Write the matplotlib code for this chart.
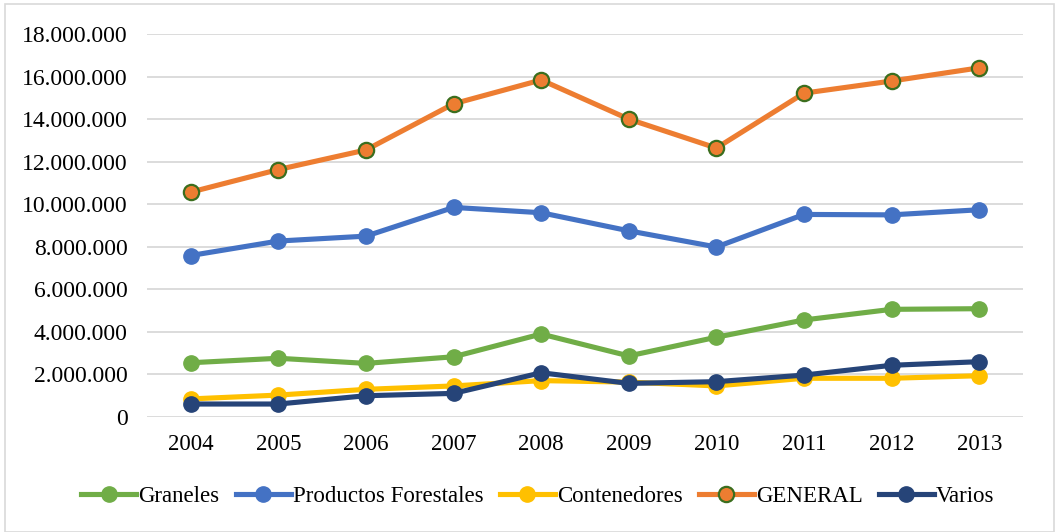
import matplotlib.pyplot as plt
from matplotlib.ticker import FuncFormatter, MultipleLocator
from matplotlib.patches import Rectangle

years = ['2004', '2005', '2006', '2007', '2008', '2009', '2010', '2011', '2012', '2013']
graneles = [2550000, 2760000, 2520000, 2830000, 3900000, 2870000, 3750000, 4560000, 5060000, 5090000]
forestales = [7590000, 8270000, 8500000, 9850000, 9600000, 8750000, 7990000, 9520000, 9500000, 9740000]
contenedores = [850000, 1030000, 1300000, 1460000, 1710000, 1640000, 1460000, 1820000, 1820000, 1940000]
general = [10570000, 11630000, 12550000, 14720000, 15840000, 14000000, 12640000, 15220000, 15790000, 16410000]
varios = [610000, 610000, 1000000, 1110000, 2080000, 1580000, 1660000, 1970000, 2430000, 2600000]

plt.rcParams['font.family'] = ['Liberation Serif', 'DejaVu Serif']

fig = plt.figure(figsize=(10.55, 5.32), dpi=100)
fig.patches.append(Rectangle((5 / 1055, 0), 1 - 6 / 1055, 1 - 4 / 532, transform=fig.transFigure,
                             fill=False, edgecolor='#d9d9d9', linewidth=1.2))
ax = fig.add_axes([147 / 1055, 1 - 417 / 532, 876 / 1055, 383 / 532])

x = range(len(years))
lw = 3.7
ms = 11
ax.plot(x, graneles, '-o', color='#70AD47', lw=lw, ms=ms, label='Graneles', zorder=3)
ax.plot(x, forestales, '-o', color='#4472C4', lw=lw, ms=ms, label='Productos Forestales', zorder=3)
ax.plot(x, contenedores, '-o', color='#FFC000', lw=lw, ms=ms, label='Contenedores', zorder=3)
ax.plot(x, general, '-o', color='#ED7D31', lw=lw, ms=ms, mec='#3b6e1e', mew=1.6,
        label='GENERAL', zorder=3)
ax.plot(x, varios, '-o', color='#264478', lw=lw, ms=ms, label='Varios', zorder=3)

ax.set_xlim(-0.5, 9.5)
ax.set_ylim(0, 18000000)
ax.yaxis.set_major_locator(MultipleLocator(2000000))
ax.yaxis.set_major_formatter(FuncFormatter(lambda v, p: f'{int(v):,}'.replace(',', '.')))
ax.set_xticks(list(x))
ax.set_xticklabels(years)
ax.grid(axis='y', color='#d9d9d9', lw=1.3)
ax.set_axisbelow(True)
for s in ax.spines.values():
    s.set_visible(False)
ax.tick_params(length=0, colors='black')
ax.tick_params(axis='y', pad=14, labelsize=17)
ax.tick_params(axis='x', pad=12, labelsize=16.5)

fig.legend(loc='center', bbox_to_anchor=(538 / 1055, 1 - 496 / 532), ncol=5, frameon=False,
           fontsize=16.5, handlelength=2.4, handletextpad=0.1, columnspacing=0.7, borderpad=0)

fig.savefig('out.png', dpi=100)
